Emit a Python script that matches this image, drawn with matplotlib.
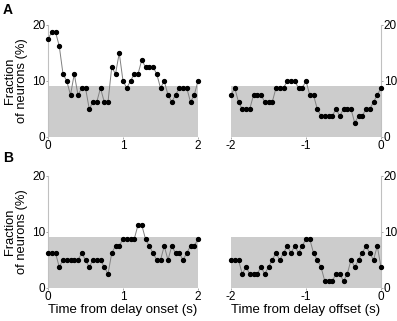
import numpy as np
import matplotlib
matplotlib.use("Agg")
import matplotlib.pyplot as plt

plt.rcParams['font.family'] = ['Liberation Sans', 'DejaVu Sans']

# time axes (s)
t_onset = np.linspace(0, 2, 41)
t_offset = np.linspace(-2, 0, 41)

# fraction of neurons (%)
a_onset = [17.5, 18.75, 18.75, 16.25, 11.25, 10, 7.5, 11.25, 7.5, 8.75,
           8.75, 5, 6.25, 6.25, 8.75, 6.25, 6.25, 12.5, 11.25, 15,
           10, 8.75, 10, 11.25, 11.25, 13.75, 12.5, 12.5, 12.5, 11.25,
           8.75, 10, 7.5, 6.25, 7.5, 8.75, 8.75, 8.75, 6.25, 7.5, 10]
a_offset = [7.5, 8.75, 6.25, 5, 5, 5, 7.5, 7.5, 7.5, 6.25,
            6.25, 6.25, 8.75, 8.75, 8.75, 10, 10, 10, 8.75, 8.75,
            10, 7.5, 7.5, 5, 3.75, 3.75, 3.75, 3.75, 5, 3.75,
            5, 5, 5, 2.5, 3.75, 3.75, 5, 5, 6.25, 7.5, 8.75]
b_onset = [6.25, 6.25, 6.25, 3.75, 5, 5, 5, 5, 5, 6.25,
           5, 3.75, 5, 5, 5, 3.75, 2.5, 6.25, 7.5, 7.5,
           8.75, 8.75, 8.75, 8.75, 11.25, 11.25, 8.75, 7.5, 6.25, 5,
           5, 7.5, 5, 7.5, 6.25, 6.25, 5, 6.25, 7.5, 7.5, 8.75]
b_offset = [5, 5, 5, 2.5, 3.75, 2.5, 2.5, 2.5, 3.75, 2.5,
            3.75, 5, 6.25, 5, 6.25, 7.5, 6.25, 7.5, 6.25, 7.5,
            8.75, 8.75, 6.25, 5, 3.75, 1.25, 1.25, 1.25, 2.5, 2.5,
            1.25, 2.5, 5, 3.75, 5, 6.25, 7.5, 6.25, 5, 7.5, 3.75]

# chance level (shaded band)
chance = 9.1

fig = plt.figure(figsize=(3.97, 3.21), dpi=100)

W, H = 397.0, 321.0
def make_ax(x0, x1, y_top, y_bot):
    return fig.add_axes([x0 / W, 1 - y_bot / H, (x1 - x0) / W, (y_bot - y_top) / H])

axes = [
    (make_ax(48, 198, 25, 137), t_onset, a_onset, 'left'),
    (make_ax(231, 381, 25, 137), t_offset, a_offset, 'right'),
    (make_ax(48, 198, 176, 288), t_onset, b_onset, 'left'),
    (make_ax(231, 381, 176, 288), t_offset, b_offset, 'right'),
]

for ax, t, y, side in axes:
    ax.fill_between([t[0], t[-1]], 0, chance, color='#cccccc', lw=0, zorder=0)
    ax.plot(t, y, '-', color='#808080', lw=0.7, zorder=2, clip_on=False)
    ax.plot(t, y, 'o', color='black', ms=2.8, zorder=3, clip_on=False)
    ax.set_xlim(t[0], t[-1])
    ax.set_ylim(0, 20)
    ax.set_yticks([0, 10, 20])
    ticks = [t[0], (t[0] + t[-1]) / 2, t[-1]]
    ax.set_xticks(ticks)
    ax.set_xticklabels(['%g' % v for v in ticks])
    for s in ['top', 'bottom', 'left', 'right']:
        ax.spines[s].set_visible(False)
    ax.spines[side].set_visible(True)
    ax.spines[side].set_color('#c0c0c0')
    ax.spines[side].set_linewidth(0.8)
    ax.tick_params(length=1.5, width=0.6, color='#999999', labelsize=8.5, pad=0.5)
    if side == 'right':
        ax.yaxis.tick_right()
    ax.patch.set_alpha(0)

for ax in (axes[0][0], axes[2][0]):
    ax.set_ylabel('Fraction\nof neurons (%)', fontsize=9.3, labelpad=3, linespacing=0.95)

axes[2][0].set_xlabel('Time from delay onset (s)', fontsize=9.5, labelpad=1)
axes[3][0].set_xlabel('Time from delay offset (s)', fontsize=9.5, labelpad=1)

fig.text(3 / W, 1 - 14 / H, 'A', fontsize=10, fontweight='bold')
fig.text(3 / W, 1 - 162 / H, 'B', fontsize=10, fontweight='bold')

fig.savefig('out.png', dpi=100)
